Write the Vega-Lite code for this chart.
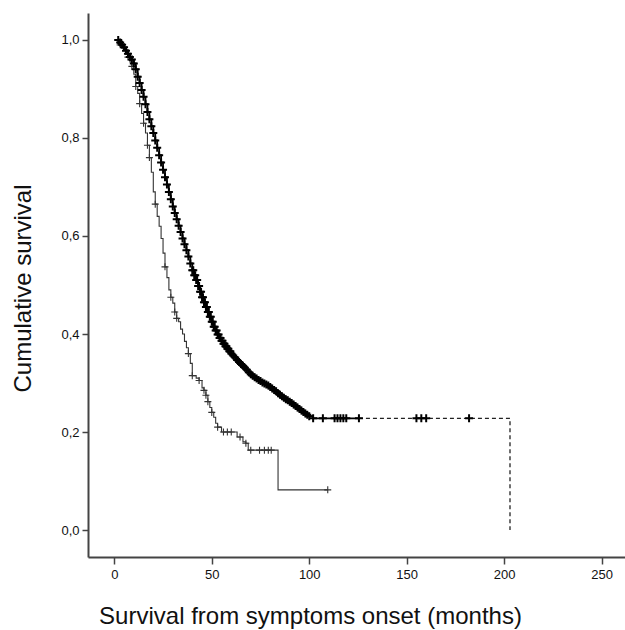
{
  "$schema": "https://vega.github.io/schema/vega-lite/v6.json",
  "width": 537,
  "height": 544,
  "autosize": {"type": "none"},
  "padding": {"left": 88, "top": 13, "right": 0, "bottom": 73},
  "background": "white",
  "config": {
    "view": {"stroke": null},
    "axis": {
      "grid": false,
      "domainColor": "#444444",
      "domainWidth": 2,
      "tickColor": "#444444",
      "tickWidth": 1.5,
      "labelFont": "Liberation Sans",
      "labelFontSize": 13,
      "labelColor": "#111111",
      "titleFont": "Liberation Sans",
      "titleFontSize": 24,
      "titleFontWeight": "normal",
      "titleColor": "#111111"
    }
  },
  "data": {
    "values": [
      {"g": "A", "t": 1.2, "s": 1.0, "c": 0},
      {"g": "A", "t": 2, "s": 1.0, "c": 1},
      {"g": "A", "t": 3, "s": 0.995, "c": 1},
      {"g": "A", "t": 4, "s": 0.99, "c": 1},
      {"g": "A", "t": 5, "s": 0.985, "c": 1},
      {"g": "A", "t": 6, "s": 0.978, "c": 1},
      {"g": "A", "t": 7, "s": 0.972, "c": 1},
      {"g": "A", "t": 8, "s": 0.965, "c": 1},
      {"g": "A", "t": 9, "s": 0.96, "c": 1},
      {"g": "A", "t": 10, "s": 0.952, "c": 1},
      {"g": "A", "t": 11, "s": 0.94, "c": 1},
      {"g": "A", "t": 12, "s": 0.925, "c": 1},
      {"g": "A", "t": 13, "s": 0.912, "c": 1},
      {"g": "A", "t": 14, "s": 0.898, "c": 1},
      {"g": "A", "t": 15, "s": 0.884, "c": 1},
      {"g": "A", "t": 16, "s": 0.869, "c": 1},
      {"g": "A", "t": 17, "s": 0.853, "c": 1},
      {"g": "A", "t": 18, "s": 0.838, "c": 1},
      {"g": "A", "t": 19, "s": 0.824, "c": 1},
      {"g": "A", "t": 20, "s": 0.81, "c": 1},
      {"g": "A", "t": 21, "s": 0.795, "c": 1},
      {"g": "A", "t": 22, "s": 0.78, "c": 1},
      {"g": "A", "t": 23, "s": 0.765, "c": 1},
      {"g": "A", "t": 24, "s": 0.75, "c": 1},
      {"g": "A", "t": 25, "s": 0.735, "c": 1},
      {"g": "A", "t": 26, "s": 0.72, "c": 1},
      {"g": "A", "t": 27, "s": 0.705, "c": 1},
      {"g": "A", "t": 28, "s": 0.69, "c": 1},
      {"g": "A", "t": 29, "s": 0.675, "c": 1},
      {"g": "A", "t": 30, "s": 0.66, "c": 1},
      {"g": "A", "t": 31, "s": 0.647, "c": 1},
      {"g": "A", "t": 32, "s": 0.634, "c": 1},
      {"g": "A", "t": 33, "s": 0.621, "c": 1},
      {"g": "A", "t": 34, "s": 0.608, "c": 1},
      {"g": "A", "t": 35, "s": 0.595, "c": 1},
      {"g": "A", "t": 36, "s": 0.583, "c": 1},
      {"g": "A", "t": 37, "s": 0.571, "c": 1},
      {"g": "A", "t": 38, "s": 0.558, "c": 1},
      {"g": "A", "t": 39, "s": 0.544, "c": 1},
      {"g": "A", "t": 40, "s": 0.53, "c": 1},
      {"g": "A", "t": 40.5, "s": 0.53, "c": 1},
      {"g": "A", "t": 41, "s": 0.52, "c": 1},
      {"g": "A", "t": 41.5, "s": 0.52, "c": 1},
      {"g": "A", "t": 42, "s": 0.51, "c": 1},
      {"g": "A", "t": 42.5, "s": 0.51, "c": 1},
      {"g": "A", "t": 43, "s": 0.498, "c": 1},
      {"g": "A", "t": 43.5, "s": 0.498, "c": 1},
      {"g": "A", "t": 44, "s": 0.486, "c": 1},
      {"g": "A", "t": 44.5, "s": 0.486, "c": 1},
      {"g": "A", "t": 45, "s": 0.475, "c": 1},
      {"g": "A", "t": 45.5, "s": 0.475, "c": 1},
      {"g": "A", "t": 46, "s": 0.465, "c": 1},
      {"g": "A", "t": 46.5, "s": 0.465, "c": 1},
      {"g": "A", "t": 47, "s": 0.455, "c": 1},
      {"g": "A", "t": 47.5, "s": 0.455, "c": 1},
      {"g": "A", "t": 48, "s": 0.445, "c": 1},
      {"g": "A", "t": 48.5, "s": 0.445, "c": 1},
      {"g": "A", "t": 49, "s": 0.435, "c": 1},
      {"g": "A", "t": 49.5, "s": 0.435, "c": 1},
      {"g": "A", "t": 50, "s": 0.425, "c": 1},
      {"g": "A", "t": 50.5, "s": 0.425, "c": 1},
      {"g": "A", "t": 51, "s": 0.415, "c": 1},
      {"g": "A", "t": 51.5, "s": 0.415, "c": 1},
      {"g": "A", "t": 52, "s": 0.407, "c": 1},
      {"g": "A", "t": 52.5, "s": 0.407, "c": 1},
      {"g": "A", "t": 53, "s": 0.399, "c": 1},
      {"g": "A", "t": 53.5, "s": 0.399, "c": 1},
      {"g": "A", "t": 54, "s": 0.392, "c": 1},
      {"g": "A", "t": 54.5, "s": 0.392, "c": 1},
      {"g": "A", "t": 55, "s": 0.386, "c": 1},
      {"g": "A", "t": 55.5, "s": 0.386, "c": 1},
      {"g": "A", "t": 56, "s": 0.38, "c": 1},
      {"g": "A", "t": 56.5, "s": 0.38, "c": 1},
      {"g": "A", "t": 57, "s": 0.375, "c": 1},
      {"g": "A", "t": 57.5, "s": 0.375, "c": 1},
      {"g": "A", "t": 58, "s": 0.37, "c": 1},
      {"g": "A", "t": 58.5, "s": 0.37, "c": 1},
      {"g": "A", "t": 59, "s": 0.365, "c": 1},
      {"g": "A", "t": 59.5, "s": 0.365, "c": 1},
      {"g": "A", "t": 60, "s": 0.36, "c": 1},
      {"g": "A", "t": 61, "s": 0.356, "c": 1},
      {"g": "A", "t": 62, "s": 0.352, "c": 1},
      {"g": "A", "t": 63, "s": 0.347, "c": 1},
      {"g": "A", "t": 64, "s": 0.343, "c": 1},
      {"g": "A", "t": 65, "s": 0.339, "c": 1},
      {"g": "A", "t": 66, "s": 0.335, "c": 1},
      {"g": "A", "t": 67, "s": 0.331, "c": 1},
      {"g": "A", "t": 68, "s": 0.327, "c": 1},
      {"g": "A", "t": 69, "s": 0.322, "c": 1},
      {"g": "A", "t": 70, "s": 0.318, "c": 1},
      {"g": "A", "t": 71, "s": 0.315, "c": 1},
      {"g": "A", "t": 72, "s": 0.312, "c": 1},
      {"g": "A", "t": 73, "s": 0.309, "c": 1},
      {"g": "A", "t": 74, "s": 0.306, "c": 1},
      {"g": "A", "t": 75, "s": 0.304, "c": 1},
      {"g": "A", "t": 76, "s": 0.301, "c": 1},
      {"g": "A", "t": 77, "s": 0.299, "c": 1},
      {"g": "A", "t": 78, "s": 0.297, "c": 1},
      {"g": "A", "t": 79, "s": 0.295, "c": 1},
      {"g": "A", "t": 80, "s": 0.292, "c": 1},
      {"g": "A", "t": 81, "s": 0.289, "c": 1},
      {"g": "A", "t": 82, "s": 0.286, "c": 1},
      {"g": "A", "t": 83, "s": 0.283, "c": 1},
      {"g": "A", "t": 84, "s": 0.279, "c": 1},
      {"g": "A", "t": 85, "s": 0.276, "c": 1},
      {"g": "A", "t": 86, "s": 0.273, "c": 1},
      {"g": "A", "t": 87, "s": 0.27, "c": 1},
      {"g": "A", "t": 88, "s": 0.267, "c": 1},
      {"g": "A", "t": 89, "s": 0.265, "c": 1},
      {"g": "A", "t": 90, "s": 0.262, "c": 1},
      {"g": "A", "t": 91, "s": 0.259, "c": 1},
      {"g": "A", "t": 92, "s": 0.256, "c": 1},
      {"g": "A", "t": 93, "s": 0.253, "c": 1},
      {"g": "A", "t": 94, "s": 0.25, "c": 1},
      {"g": "A", "t": 95, "s": 0.247, "c": 1},
      {"g": "A", "t": 96, "s": 0.244, "c": 1},
      {"g": "A", "t": 97, "s": 0.241, "c": 1},
      {"g": "A", "t": 98, "s": 0.238, "c": 1},
      {"g": "A", "t": 99, "s": 0.235, "c": 1},
      {"g": "A", "t": 100, "s": 0.232, "c": 1},
      {"g": "A", "t": 102, "s": 0.228, "c": 1},
      {"g": "A", "t": 104, "s": 0.228, "c": 0},
      {"g": "A", "t": 107, "s": 0.228, "c": 1},
      {"g": "A", "t": 113, "s": 0.228, "c": 1},
      {"g": "A", "t": 114.5, "s": 0.228, "c": 1},
      {"g": "A", "t": 116, "s": 0.228, "c": 1},
      {"g": "A", "t": 117.5, "s": 0.228, "c": 1},
      {"g": "A", "t": 119, "s": 0.228, "c": 1},
      {"g": "A", "t": 125.5, "s": 0.228, "c": 1},
      {"g": "T", "t": 125.5, "s": 0.228, "c": 0},
      {"g": "T", "t": 155, "s": 0.228, "c": 1},
      {"g": "T", "t": 157.5, "s": 0.228, "c": 1},
      {"g": "T", "t": 160, "s": 0.228, "c": 1},
      {"g": "T", "t": 182, "s": 0.228, "c": 1},
      {"g": "T", "t": 203, "s": 0.228, "c": 0},
      {"g": "T", "t": 203, "s": 0.0, "c": 0},
      {"g": "B", "t": 1.2, "s": 1.0, "c": 0},
      {"g": "B", "t": 3, "s": 0.99, "c": 1},
      {"g": "B", "t": 5, "s": 0.98, "c": 0},
      {"g": "B", "t": 7, "s": 0.965, "c": 1},
      {"g": "B", "t": 8, "s": 0.955, "c": 0},
      {"g": "B", "t": 9, "s": 0.946, "c": 1},
      {"g": "B", "t": 10, "s": 0.93, "c": 0},
      {"g": "B", "t": 11, "s": 0.905, "c": 1},
      {"g": "B", "t": 12, "s": 0.891, "c": 0},
      {"g": "B", "t": 13, "s": 0.87, "c": 1},
      {"g": "B", "t": 14, "s": 0.85, "c": 0},
      {"g": "B", "t": 15, "s": 0.83, "c": 1},
      {"g": "B", "t": 16, "s": 0.81, "c": 0},
      {"g": "B", "t": 17, "s": 0.785, "c": 1},
      {"g": "B", "t": 18, "s": 0.76, "c": 1},
      {"g": "B", "t": 19, "s": 0.73, "c": 0},
      {"g": "B", "t": 20, "s": 0.69, "c": 0},
      {"g": "B", "t": 21, "s": 0.665, "c": 1},
      {"g": "B", "t": 22, "s": 0.64, "c": 0},
      {"g": "B", "t": 23, "s": 0.62, "c": 0},
      {"g": "B", "t": 24, "s": 0.595, "c": 0},
      {"g": "B", "t": 25, "s": 0.565, "c": 0},
      {"g": "B", "t": 26, "s": 0.537, "c": 1},
      {"g": "B", "t": 27, "s": 0.515, "c": 0},
      {"g": "B", "t": 28, "s": 0.49, "c": 0},
      {"g": "B", "t": 29, "s": 0.475, "c": 1},
      {"g": "B", "t": 30, "s": 0.463, "c": 0},
      {"g": "B", "t": 31, "s": 0.445, "c": 1},
      {"g": "B", "t": 32, "s": 0.432, "c": 1},
      {"g": "B", "t": 33, "s": 0.425, "c": 0},
      {"g": "B", "t": 34, "s": 0.41, "c": 0},
      {"g": "B", "t": 35, "s": 0.4, "c": 0},
      {"g": "B", "t": 36, "s": 0.385, "c": 0},
      {"g": "B", "t": 37, "s": 0.372, "c": 0},
      {"g": "B", "t": 38, "s": 0.36, "c": 1},
      {"g": "B", "t": 39, "s": 0.34, "c": 0},
      {"g": "B", "t": 40, "s": 0.315, "c": 1},
      {"g": "B", "t": 42, "s": 0.31, "c": 0},
      {"g": "B", "t": 43.5, "s": 0.305, "c": 1},
      {"g": "B", "t": 45, "s": 0.29, "c": 0},
      {"g": "B", "t": 46, "s": 0.285, "c": 1},
      {"g": "B", "t": 47, "s": 0.275, "c": 1},
      {"g": "B", "t": 48, "s": 0.262, "c": 1},
      {"g": "B", "t": 49, "s": 0.25, "c": 0},
      {"g": "B", "t": 50, "s": 0.24, "c": 1},
      {"g": "B", "t": 51, "s": 0.23, "c": 0},
      {"g": "B", "t": 52, "s": 0.218, "c": 0},
      {"g": "B", "t": 53, "s": 0.21, "c": 1},
      {"g": "B", "t": 55, "s": 0.2, "c": 0},
      {"g": "B", "t": 56, "s": 0.2, "c": 1},
      {"g": "B", "t": 58, "s": 0.2, "c": 1},
      {"g": "B", "t": 60, "s": 0.2, "c": 1},
      {"g": "B", "t": 63, "s": 0.19, "c": 0},
      {"g": "B", "t": 64.5, "s": 0.19, "c": 1},
      {"g": "B", "t": 66, "s": 0.18, "c": 0},
      {"g": "B", "t": 67.5, "s": 0.177, "c": 1},
      {"g": "B", "t": 68.7, "s": 0.163, "c": 0},
      {"g": "B", "t": 70, "s": 0.163, "c": 1},
      {"g": "B", "t": 74.5, "s": 0.163, "c": 1},
      {"g": "B", "t": 77, "s": 0.163, "c": 1},
      {"g": "B", "t": 79, "s": 0.163, "c": 1},
      {"g": "B", "t": 80.5, "s": 0.163, "c": 1},
      {"g": "B", "t": 84, "s": 0.082, "c": 0},
      {"g": "B", "t": 109.5, "s": 0.082, "c": 1}
    ]
  },
  "encoding": {
    "x": {
      "field": "t",
      "type": "quantitative",
      "scale": {"domain": [-13.5, 262], "nice": false, "zero": false},
      "axis": {
        "values": [0, 50, 100, 150, 200, 250],
        "tickSize": 7,
        "labelPadding": 4,
        "title": "Survival from symptoms onset (months)",
        "titleX": 222,
        "titleY": 66,
        "titleAlign": "center",
        "titleBaseline": "alphabetic"
      }
    },
    "y": {
      "field": "s",
      "type": "quantitative",
      "scale": {"domain": [-0.055, 1.055], "nice": false, "zero": false},
      "axis": {
        "values": [0, 0.2, 0.4, 0.6, 0.8, 1.0],
        "labelExpr": "replace(format(datum.value, '.1f'), '.', ',')",
        "tickSize": 6,
        "labelPadding": 3,
        "title": "Cumulative survival",
        "titleAngle": -90,
        "titleX": -58,
        "titleY": 275,
        "titleAlign": "center",
        "titleBaseline": "alphabetic"
      }
    }
  },
  "layer": [
    {
      "transform": [{"filter": "datum.g == 'B'"}],
      "mark": {"type": "line", "interpolate": "step-after", "color": "#333333", "strokeWidth": 1.1}
    },
    {
      "transform": [{"filter": "datum.g == 'A'"}],
      "mark": {"type": "line", "interpolate": "step-after", "color": "#000000", "strokeWidth": 1.8}
    },
    {
      "transform": [{"filter": "datum.g == 'T'"}],
      "mark": {"type": "line", "interpolate": "step-after", "color": "#222222", "strokeWidth": 1.3, "strokeDash": [4, 3]}
    },
    {
      "transform": [{"filter": "datum.g == 'B' && datum.c == 1"}],
      "mark": {"type": "point", "shape": "M-1,0H1M0,-1V1", "filled": false, "size": 49, "stroke": "#333333", "strokeWidth": 1.1, "opacity": 1}
    },
    {
      "transform": [{"filter": "(datum.g == 'A' || datum.g == 'T') && datum.c == 1"}],
      "mark": {"type": "point", "shape": "M-1,0H1M0,-1V1", "filled": false, "size": 64, "stroke": "#000000", "strokeWidth": 2, "opacity": 1}
    }
  ]
}
